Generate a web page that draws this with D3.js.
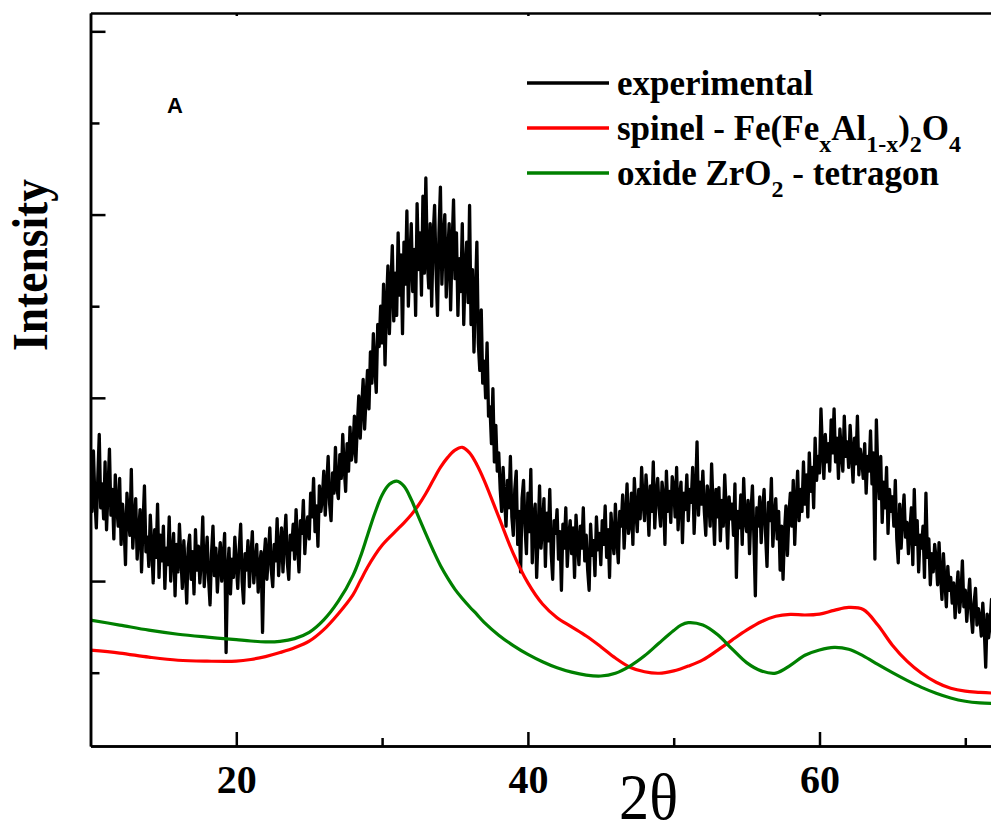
<!DOCTYPE html>
<html>
<head>
<meta charset="utf-8">
<script src="https://cdn.jsdelivr.net/npm/d3@7"></script>
<style>
	body { margin: 0; background: #fff; }
	svg { display: block; }
</style>
</head>
<body>
<div id="chart"></div>
<script>
// experimental pattern, one value per 0.1 degree from 10.0 to 72.0 (one row = 1 degree)
const expStart = 10, expStep = 0.1;
const experimental = [
	1620, 1380, 1710, 1450, 1290, 1560, 1800, 1400, 1530, 1340,
	1650, 1280, 1490, 1720, 1360, 1500, 1230, 1580, 1410, 1300,
	1560, 1200, 1420, 1310, 1090, 1480, 1350, 1250, 1610, 1180,
	1330, 1450, 1120, 1260, 1390, 1050, 1310, 1520, 1160, 1240,
	1080, 1360, 1190, 990, 1280, 1130, 1420, 1020, 1250, 1110,
	1300, 960, 1180, 1090, 1350, 1000, 1150, 1260, 920, 1200,
	1050, 1310, 1130, 960, 1220, 1070, 880, 1180, 1250, 1010,
	1160, 930, 1280, 1060, 1190, 990, 1120, 1350, 970, 1100,
	1240, 1010, 870, 1150, 1300, 1030, 1180, 940, 1090, 1210,
	1000, 1130, 1260, 610, 1050, 1180, 930, 1120, 1020, 1240,
	1090, 960, 1170, 1310, 1000, 880, 1150, 1060, 1220, 970,
	1130, 1270, 990, 1100, 1200, 940, 1080, 1160, 720, 1120,
	1230, 1010, 1140, 1290, 1060, 970, 1200, 1110, 1340, 1030,
	1180, 1290, 1050, 1220, 1360, 1100, 1010, 1250, 1170, 1310,
	1120, 1390, 1200, 1050, 1330, 1260, 1440, 1150, 1290, 1350,
	1230, 1480, 1350, 1560, 1270, 1410, 1190, 1520, 1380, 1450,
	1600, 1360, 1520, 1680, 1420, 1330, 1590, 1480, 1730, 1510,
	1450, 1690, 1560, 1800, 1620, 1490, 1750, 1600, 1840, 1660,
	1720, 1900, 1650, 1850, 2010, 1780, 1950, 2100, 1830, 2000,
	2150, 1940, 2250, 2080, 2350, 2170, 2030, 2400, 2280, 2500,
	2300, 2620, 2180, 2500, 2720, 2350, 2600, 2830, 2420, 2680,
	2450, 2900, 2560, 2780, 2350, 2850, 2620, 3020, 2500, 2740,
	2950, 2580, 2810, 2450, 3060, 2700, 2900, 2560, 3100, 2680,
	3200, 2750, 2600, 2950, 2500, 2880, 3050, 2700, 2450, 2900,
	3150, 2620, 2860, 3000, 2550, 2780, 2950, 2480, 2830, 3080,
	2650, 2900, 2450, 2760, 2580, 2950, 2400, 2700, 2850, 2520,
	3050, 2400, 2700, 2250, 2550, 2850, 2300, 2150, 2480, 2080,
	2200, 2000, 2300, 1900, 1950, 1750, 2050, 1650, 1850, 1600,
	1700, 1500, 1380, 1620, 1450, 1300, 1550, 1400, 1680, 1350,
	1250, 1500, 1600, 1200, 1380, 1050, 1450, 1550, 1300, 1150,
	1480, 1270, 1610, 1100, 1350, 1420, 1020, 1250, 1520, 1180,
	1300, 1450, 1080, 1370, 1220, 1500, 1150, 1010, 1330, 1260,
	1390, 1120, 1270, 950, 1310, 1180, 1400, 1080, 1240, 1330,
	1150, 1290, 1020, 1360, 1210, 1090, 1300, 1180, 1400, 1110,
	1250, 1060, 950, 1310, 1140, 1220, 1030, 1350, 1170, 1260,
	1090, 1330, 1200, 1410, 1130, 1280, 1020, 1370, 1240, 1150,
	1420, 1230, 1100, 1380, 1300, 1470, 1180, 1350, 1530, 1260,
	1310, 1480, 1200, 1560, 1390, 1270, 1500, 1340, 1620, 1430,
	1330, 1580, 1450, 1250, 1520, 1380, 1650, 1290, 1470, 1560,
	1400, 1300, 1540, 1460, 1200, 1600, 1380, 1490, 1320, 1570,
	1510, 1350, 1620, 1280, 1450, 1540, 1210, 1480, 1390, 1580,
	1330, 1500, 1430, 1620, 1260, 1470, 1760, 1360, 1540, 1420,
	1600, 1380, 1250, 1520, 1450, 1300, 1640, 1410, 1200, 1500,
	1350, 1510, 1220, 1440, 1300, 1580, 1390, 1180, 1460, 1340,
	1420, 1250, 1530, 1020, 1380, 1290, 1470, 1200, 1560, 1330,
	1270, 1440, 1150, 1380, 1520, 1240, 920, 1400, 1300, 1460,
	1210, 1390, 1500, 1260, 1080, 1430, 1330, 1560, 1190, 1350,
	1450, 1230, 1380, 1060, 1300, 1010, 1270, 1410, 1140, 1360,
	1480, 1300, 1550, 1200, 1420, 1600, 1330, 1500, 1380, 1650,
	1420, 1580, 1350, 1700, 1490, 1620, 1400, 1780, 1550, 1680,
	1590, 1940, 1720, 1560, 1800, 1650, 1750, 1600, 1880, 1700,
	1940, 1650, 1780, 1560, 1830, 1700, 1600, 1900, 1680, 1760,
	1620, 1850, 1700, 1540, 1780, 1640, 1900, 1580, 1720, 1660,
	1560, 1750, 1480, 1680, 1600, 1820, 1530, 1700, 1120, 1880,
	1600, 1450, 1680, 1320, 1540, 1400, 1620, 1260, 1500, 1380,
	1460, 1300, 1550, 1230, 1100, 1420, 1180, 1350, 1470, 1240,
	1320, 1150, 1280, 1400, 1090, 1500, 1200, 1330, 1050, 1250,
	1180, 1300, 1020, 1480, 1130, 1230, 980, 1150, 1050, 1200,
	1120, 980, 1210, 1030, 900, 1150, 1000, 860, 1080, 950,
	1020, 880, 990, 800, 940, 1050, 830, 920, 1110, 860,
	950, 780, 900, 1010, 820, 720, 880, 960, 760, 850,
	800, 700, 880, 740, 530, 820, 690, 770, 900, 650,
	760
];

// fitted phase profiles, sampled at fitTheta
const fitTheta = [10, 12, 14, 16, 18, 20, 21, 22, 23, 24, 25, 26, 27, 28, 28.5, 29, 29.5, 30, 30.5, 31, 31.5, 32, 32.5, 33, 33.5, 34, 34.5, 35, 35.5, 36, 36.5, 37, 38, 39, 40, 41, 42, 43, 44, 45, 46, 47, 48, 49, 50, 50.5, 51, 52, 53, 54, 55, 56, 57, 58, 59, 60, 61, 62, 63, 64, 65, 66, 67, 68, 69, 70, 71, 72];
const spinel = [623, 607, 585, 568, 563, 563, 572, 588, 610, 636, 672, 735, 822, 925, 1000, 1075, 1140, 1195, 1238, 1278, 1318, 1362, 1415, 1478, 1550, 1620, 1675, 1715, 1730, 1700, 1635, 1550, 1350, 1150, 990, 875, 800, 750, 700, 642, 580, 530, 505, 497, 510, 522, 536, 570, 622, 678, 732, 778, 808, 818, 815, 820, 840, 856, 845, 760, 650, 563, 497, 448, 415, 399, 393, 388];
const zirconia = [787, 760, 732, 710, 694, 680, 673, 668, 671, 686, 720, 788, 890, 1030, 1130, 1250, 1370, 1470, 1528, 1545, 1518, 1445, 1350, 1257, 1168, 1085, 1016, 955, 905, 860, 818, 775, 705, 648, 600, 560, 527, 503, 487, 482, 497, 536, 592, 662, 730, 760, 773, 760, 708, 630, 555, 510, 498, 540, 595, 624, 638, 628, 592, 545, 500, 458, 420, 388, 362, 344, 335, 332];

const xMajorTicks = [20, 40, 60];
const xMinorTicks = [30, 50, 70];
const yMajorTicks = [1000, 2000, 3000, 4000];
const yMinorTicks = [500, 1500, 2500, 3500];

const legendItems = [
	{ color: "#000000", parts: [["experimental", false]] },
	{ color: "#ff0000", parts: [["spinel - Fe(Fe", false], ["x", true], ["Al", false], ["1-x", true], [")", false], ["2", true], ["O", false], ["4", true]] },
	{ color: "#008000", parts: [["oxide ZrO", false], ["2", true], [" - tetragon", false]] },
];

const width = 991, height = 827;
const margin = { top: 13, left: 90.5, bottom: 746 };
const serif = "'Liberation Serif', 'Times New Roman', serif";

const svg = d3.select("#chart").append("svg")
	.attr("width", width)
	.attr("height", height);

const xScale = d3.scaleLinear().domain([10, 75]).range([margin.left, margin.left + 65 * 14.58]);
const yScale = d3.scaleLinear().domain([100, 4100]).range([margin.bottom, margin.top]);

svg.append("defs").append("clipPath").attr("id", "plot-clip")
	.append("rect")
	.attr("x", margin.left)
	.attr("y", margin.top)
	.attr("width", 1000)
	.attr("height", margin.bottom - margin.top);

const plot = svg.append("g").attr("clip-path", "url(#plot-clip)");

const expLine = d3.line()
	.x((d, i) => xScale(expStart + i * expStep))
	.y((d) => yScale(d));

plot.append("path")
	.attr("d", expLine(experimental))
	.attr("fill", "none")
	.attr("stroke", "#000")
	.attr("stroke-width", 3.3)
	.attr("stroke-linejoin", "round")
	.attr("stroke-linecap", "round");

const fitLine = d3.line()
	.x((d, i) => xScale(fitTheta[i]))
	.y((d) => yScale(d))
	.curve(d3.curveCatmullRom.alpha(0.5));

plot.append("path")
	.attr("d", fitLine(spinel))
	.attr("fill", "none")
	.attr("stroke", "#ff0000")
	.attr("stroke-width", 3.2);

plot.append("path")
	.attr("d", fitLine(zirconia))
	.attr("fill", "none")
	.attr("stroke", "#008000")
	.attr("stroke-width", 3.2);

// axes, ticks point inwards
function styleAxis(g) {
	g.selectAll(".domain").attr("stroke", "#000").attr("stroke-width", 2.5);
	g.selectAll(".tick line").attr("stroke", "#000").attr("stroke-width", 2.5);
}

svg.append("g")
	.attr("transform", `translate(0,${margin.bottom})`)
	.call(d3.axisBottom(xScale).tickValues(xMinorTicks).tickSize(-8).tickSizeOuter(0).tickFormat(""))
	.call(styleAxis);

svg.append("g")
	.attr("transform", `translate(0,${margin.bottom})`)
	.call(d3.axisBottom(xScale).tickValues(xMajorTicks).tickSize(-14).tickSizeOuter(0).tickPadding(19).tickFormat(d3.format("d")))
	.call(styleAxis)
	.call((g) => g.selectAll("text")
		.attr("fill", "#000")
		.style("font-family", serif)
		.style("font-weight", "bold")
		.style("font-size", "40px"));

svg.append("g")
	.attr("transform", `translate(0,${margin.top})`)
	.call(d3.axisTop(xScale).tickValues(xMajorTicks).tickSize(-3).tickSizeOuter(0).tickFormat(""))
	.call(styleAxis);

svg.append("g")
	.attr("transform", `translate(${margin.left},0)`)
	.call(d3.axisLeft(yScale).tickValues(yMinorTicks).tickSize(-9).tickSizeOuter(0).tickFormat(""))
	.call(styleAxis);

svg.append("g")
	.attr("transform", `translate(${margin.left},0)`)
	.call(d3.axisLeft(yScale).tickValues(yMajorTicks).tickSize(-15).tickSizeOuter(0).tickFormat(""))
	.call(styleAxis);

// axis titles
svg.append("text")
	.text("Intensity")
	.attr("transform", "translate(47,265) rotate(-90)")
	.attr("text-anchor", "middle")
	.attr("textLength", 172)
	.attr("lengthAdjust", "spacingAndGlyphs")
	.style("font-family", serif)
	.style("font-weight", "bold")
	.style("font-size", "50px");

svg.append("text")
	.text("2θ")
	.attr("x", 619)
	.attr("y", 819)
	.attr("textLength", 59)
	.attr("lengthAdjust", "spacingAndGlyphs")
	.style("font-family", serif)
	.style("font-size", "66px");

svg.append("text")
	.text("A")
	.attr("x", 167)
	.attr("y", 113)
	.style("font-family", "'Liberation Sans', Arial, sans-serif")
	.style("font-weight", "bold")
	.style("font-size", "22px");

// legend
const legend = svg.append("g").attr("class", "legend");
legendItems.forEach((item, i) => {
	const baseY = 95 + i * 45;
	legend.append("line")
		.attr("x1", 527)
		.attr("x2", 609)
		.attr("y1", baseY - 12)
		.attr("y2", baseY - 12)
		.attr("stroke", item.color)
		.attr("stroke-width", 3.5);
	const label = legend.append("text")
		.attr("x", 617)
		.attr("y", baseY)
		.style("font-family", serif)
		.style("font-weight", "bold")
		.style("font-size", "35px");
	let lowered = false;
	item.parts.forEach(([txt, sub]) => {
		const span = label.append("tspan").text(txt);
		if (sub && !lowered) { span.attr("dy", 12); lowered = true; }
		else if (!sub && lowered) { span.attr("dy", -12); lowered = false; }
		if (sub) span.style("font-size", "24px");
	});
});
</script>
</body>
</html>
